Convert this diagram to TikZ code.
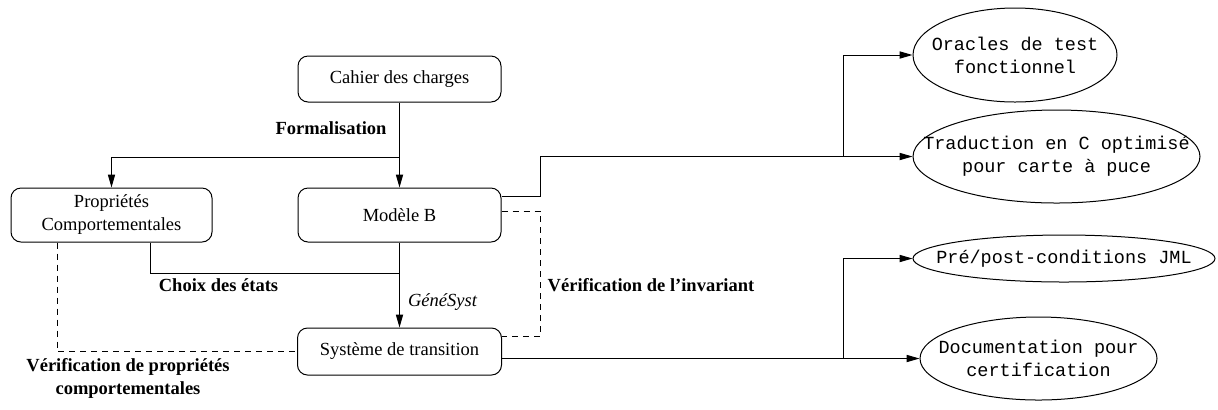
\documentclass[tikz,border=0pt]{standalone}
\usepackage{fontspec}
\setmainfont{Liberation Serif}
\setmonofont{Liberation Mono}
\usetikzlibrary{positioning,arrows.meta,shapes.geometric}

\begin{document}
\begin{tikzpicture}[
  x=0.5pt,y=-0.5pt,
  >={Triangle[length=6.5pt,width=3.6pt]},
  every node/.style={font=\fontsize{9.25}{11.5}\selectfont},
  box/.style={draw,rounded corners=5pt,minimum width=101.5pt,minimum height=23pt,align=center,inner sep=2pt,line width=0.5pt},
  oval/.style={draw,ellipse,inner sep=0pt,align=center,line width=0.5pt,font=\ttfamily\fontsize{9.25}{11.5}\selectfont},
  tag/.style={font=\bfseries\fontsize{9.25}{11.5}\selectfont,align=center,inner sep=1pt},
  link/.style={->,line width=0.5pt},
  plain/.style={line width=0.5pt},
  dotlink/.style={line width=0.5pt,dash pattern=on 3pt off 2.5pt}
]
  \path[use as bounding box] (0,0) rectangle (1218,409);

  \node[box] (cahier) at (399.5,79) {Cahier des charges};
  \node[box,minimum width=100.5pt,minimum height=27pt] (proprietes) at (111.5,215) {Propriétés\\Comportementales};
  \node[box,minimum height=27pt] (modele) at (399.5,215) {Modèle B};
  \node[box,minimum width=102pt,minimum height=23.5pt] (systeme) at (399.5,351.5) {Système de transition};

  \node[oval,minimum width=102pt,minimum height=47pt] (oracles) at (1015,55)
    {\makebox[0pt]{Oracles de test}\\\makebox[0pt]{fonctionnel}};
  \node[oval,minimum width=143.5pt,minimum height=46.5pt] (traduction) at (1056.5,156.5)
    {\makebox[0pt]{Traduction en C optimisé}\\\makebox[0pt]{pour carte à puce}};
  \node[oval,minimum width=151pt,minimum height=23.5pt] (prepost) at (1064,258.5)
    {\makebox[0pt]{Pré/post-conditions JML}};
  \node[oval,minimum width=118.5pt,minimum height=41.5pt] (documentation) at (1038.5,358.5)
    {\makebox[0pt]{Documentation pour}\\\makebox[0pt]{certification}};

  \node[tag] (formal) at (331,128) {Formalisation};
  \node[tag] (choix) at (218.5,285) {Choix des états};
  \node[font=\itshape\fontsize{9.25}{11.5}\selectfont,inner sep=1pt] (genesyst) at (442.5,302) {GénéSyst};
  \node[tag] (verifinv) at (651,285) {Vérification de l'invariant};
  \node[tag] (verifprop) at (128,378) {Vérification de propriétés\\comportementales};

  \coordinate (fork) at (399.5,157);
  \coordinate (join) at (399.5,273);
  \coordinate (split1) at (843,156.5);
  \coordinate (split2) at (843,358.5);

  \draw[link] (cahier) -- (modele);
  \draw[link] (fork) -| (proprietes.north);
  \draw[plain] ([xshift=19.25pt]proprietes.south) |- (join);
  \draw[link] (modele) -- (systeme);
  \draw[link] ([yshift=9.5pt]modele.east) -- ++(39,0) |- (traduction.west);
  \draw[link] (split1) |- (oracles.west);
  \draw[dotlink] ([yshift=2pt]modele.east) -- ++(39,0) |- ([yshift=7.75pt]systeme.east);
  \draw[link] (systeme.east |- documentation.west) -- (documentation.west);
  \draw[link] (split2) |- (prepost.west);
  \draw[dotlink] ([xshift=-27.25pt]proprietes.south) |- (systeme.west);
\end{tikzpicture}
\end{document}
